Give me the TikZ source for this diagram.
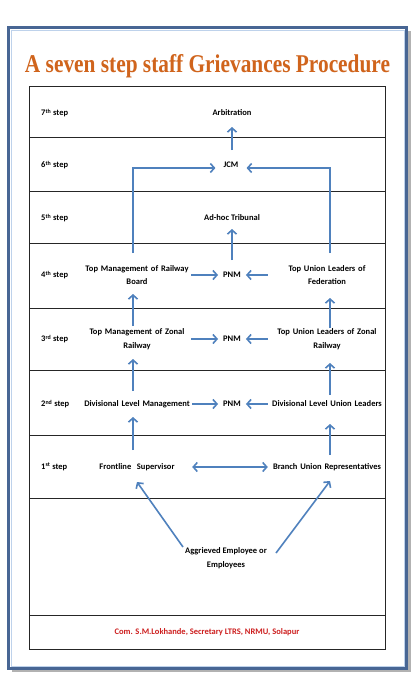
\documentclass[tikz,border=0pt]{standalone}
\usepackage{fontspec}
\setmainfont{Carlito}
\newfontfamily\titlefont{Liberation Serif}
\usetikzlibrary{arrows.meta,calc}
\definecolor{arrowblue}{RGB}{79,129,189}
\definecolor{frameblue}{RGB}{72,102,148}
\definecolor{framelight}{RGB}{190,210,235}
\definecolor{titleorange}{RGB}{208,100,28}
\definecolor{footred}{RGB}{205,30,30}
\begin{document}
\begin{tikzpicture}[x=1pt,y=-1pt,
  every node/.style={font=\fontsize{8.5}{13.5}\selectfont\bfseries, inner sep=0pt},
  lft/.style={text width=108pt, align=center},
  rgt/.style={text width=118pt, align=center},
  mid/.style={inner xsep=5pt, inner ysep=0pt},
  steplabel/.style={anchor=west},
  arr/.style={draw=arrowblue, line width=1.6pt, -{Straight Barb[length=4pt,width=9pt]}},
  darr/.style={draw=arrowblue, line width=1.6pt, {Straight Barb[length=4pt,width=9pt]}-{Straight Barb[length=4pt,width=9pt]}},
  rowline/.style={draw=black!85, line width=0.8pt}]
\useasboundingbox (0,0) rectangle (419,678);
% frame with shadow
\fill[black!30] (12,31) rectangle (411,672);
\draw[frameblue, line width=3pt, fill=white] (8.5,27.5) rectangle (406.5,668.5);
\draw[framelight, line width=0.6pt] (11,30) rectangle (404,666);
% title
\node[anchor=base, text=titleorange, font=\titlefont\bfseries] (title) at (207.5,72)
  {\resizebox{365pt}{18pt}{A seven step staff Grievances Procedure}};
% table
\draw[rowline] (29,86) rectangle (385,649);
\foreach \yy in {137,191,243,308,370,435,498,615}
  \draw[rowline] (29,\yy) -- (385,\yy);
% step labels
\node[steplabel] (s7) at (41,113) {7\textsuperscript{th} step};
\node[steplabel] (s6) at (41,165) {6\textsuperscript{th} step};
\node[steplabel] (s5) at (41,218) {5\textsuperscript{th} step};
\node[steplabel] (s4) at (41,275) {4\textsuperscript{th} step};
\node[steplabel] (s3) at (41,339) {3\textsuperscript{rd} step};
\node[steplabel] (s2) at (41,404) {2\textsuperscript{nd} step};
\node[steplabel] (s1) at (41,467) {1\textsuperscript{st} step};
% centre column
\node[mid] (arb) at (232,113) {Arbitration};
\node[mid, inner xsep=8pt] (jcm) at (231,165) {JCM};
\node[mid] (adhoc) at (232,218) {Ad-hoc Tribunal};
\node[mid] (pnm4) at (232,275) {PNM};
\node[mid] (pnm3) at (232,339) {PNM};
\node[mid] (pnm2) at (232,404) {PNM};
% left column
\node[lft] (tmrb) at (137,275) {Top Management of Railway\\Board};
\node[lft] (tmzr) at (137,339) {Top Management of Zonal\\Railway};
\node[lft] (dlm) at (137,404) {Divisional Level Management};
\node[lft] (fs) at (137,467) {Frontline\ \ Supervisor};
% right column
\node[rgt] (tulf) at (327,275) {Top Union Leaders of\\Federation};
\node[rgt] (tulz) at (327,339) {Top Union Leaders of Zonal\\Railway};
\node[rgt] (dlul) at (327,404) {Divisional Level Union Leaders};
\node[rgt] (bur) at (327,467) {Branch Union Representatives};
% aggrieved
\node[align=center] (agg) at (226,558) {Aggrieved Employee or\\Employees};
% footer
\node[text=footred] (foot) at (207,632) {Com. S.M.Lokhande, Secretary LTRS, NRMU, Solapur};
% arrows: horizontal to PNM
\draw[arr] (tmrb.east |- pnm4) -- (pnm4.west);
\draw[arr] (tulf.west |- pnm4) -- (pnm4.east);
\draw[arr] (tmzr.east |- pnm3) -- (pnm3.west);
\draw[arr] (tulz.west |- pnm3) -- (pnm3.east);
\draw[arr] ($(dlm.east)+(1,0)$) -- (pnm2.west);
\draw[arr] (dlul.west) -- (pnm2.east);
\draw[darr] ($(fs.east)+(1,0)$) -- (bur.west);
% vertical centre
\draw[arr] ($(jcm.center)+(1,-15)$) -- ($(arb.center)+(0,14)$);
\draw[arr] ($(pnm4.center)+(0,-15)$) -- ($(adhoc.center)+(0,11)$);
% left column
\draw[arr] ($(fs.center)+(-4,-17)$) -- ($(dlm.center)+(-4,13)$);
\draw[arr] ($(dlm.center)+(-4,-13)$) -- ($(tmzr.center)+(-4,20)$);
\draw[arr] ($(tmzr.center)+(-4,-13)$) -- ($(tmrb.center)+(-4,19)$);
\draw[arr] ($(tmrb.center)+(-4,-22)$) |- ($(jcm.west)+(0,3)$);
% right column
\draw[arr] ($(bur.center)+(3,-12)$) -- ($(dlul.center)+(3,20)$);
\draw[arr] ($(dlul.center)+(3,-9)$) -- ($(tulz.center)+(3,24)$);
\draw[arr] ($(tulz.center)+(3,-11)$) -- ($(tulf.center)+(3,23)$);
\draw[arr] ($(tulf.center)+(3,-22)$) |- ($(jcm.east)+(0,3)$);
% diagonals
\draw[arr] ($(agg.center)+(-43,-11)$) -- ($(fs.center)+(0,15)$);
\draw[arr] ($(agg.center)+(50,-5)$) -- ($(bur.center)+(3,14)$);
\end{tikzpicture}
\end{document}
